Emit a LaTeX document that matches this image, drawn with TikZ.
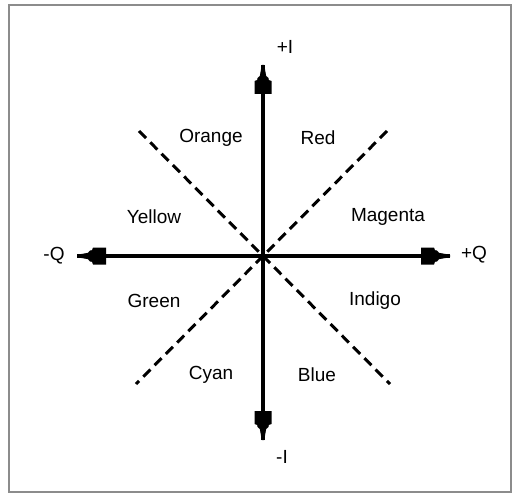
\documentclass[tikz,border=0pt]{standalone}
\usepackage{fontspec}
\setmainfont{Liberation Sans}
\tikzset{
  lbl/.style={font=\fontsize{19}{20}\selectfont, inner sep=0pt},
  axis/.style={line width=3.2pt},
  diag/.style={line width=3pt, dash pattern=on 10pt off 6pt},
  frame/.style={draw=black!45, line width=2pt},
  pics/ahead/.style={code={
    \fill (0,1.2) -- (-11,3.2) -- (-13,5.5) -- (-15,5.8) -- (-16,8.5) -- (-29,8.5) -- (-29,-8.5) -- (-16,-8.5) -- (-15,-5.8) -- (-13,-5.5) -- (-11,-3.2) -- (0,-1.2) -- cycle;
  }}
}
\begin{document}
\begin{tikzpicture}[x=1pt,y=-1pt]
\useasboundingbox (0,0) rectangle (512,495);
\draw[frame] (9,5) rectangle (510.5,492);
% centre and axis ends
\coordinate (c) at (263,256);
\coordinate (top) at (263,65);
\coordinate (bot) at (263,440);
\coordinate (lft) at (77,256);
\coordinate (rgt) at (450,256);
% diagonal ends
\coordinate (ul) at (139,131);
\coordinate (ur) at (387,131);
\coordinate (ll) at (136,384);
\coordinate (lr) at (390,384);
\draw[diag] (ul) -- (lr);
\draw[diag] (ur) -- (ll);
\draw[axis] (c) -- (top);
\draw[axis] (c) -- (bot);
\draw[axis] (c) -- (lft);
\draw[axis] (c) -- (rgt);
\pic[rotate=90] at (top) {ahead};
\pic[rotate=-90] at (bot) {ahead};
\pic[rotate=180] at (lft) {ahead};
\pic at (rgt) {ahead};
% axis labels
\node[lbl] (pI) at (285,47) {+I};
\node[lbl] (mI) at (282,457) {-I};
\node[lbl] (mQ) at (54,256) {-Q};
\node[lbl] (pQ) at (474,255) {+Q};
% colour labels
\node[lbl] (orange) at (211,138) {Orange};
\node[lbl] (red) at (318,138) {Red};
\node[lbl] (yellow) at (154,217) {Yellow};
\node[lbl] (magenta) at (388,217) {Magenta};
\node[lbl] (green) at (154,301) {Green};
\node[lbl] (indigo) at (375,301) {Indigo};
\node[lbl] (cyan) at (211,375) {Cyan};
\node[lbl] (blue) at (317,375) {Blue};
\end{tikzpicture}
\end{document}
